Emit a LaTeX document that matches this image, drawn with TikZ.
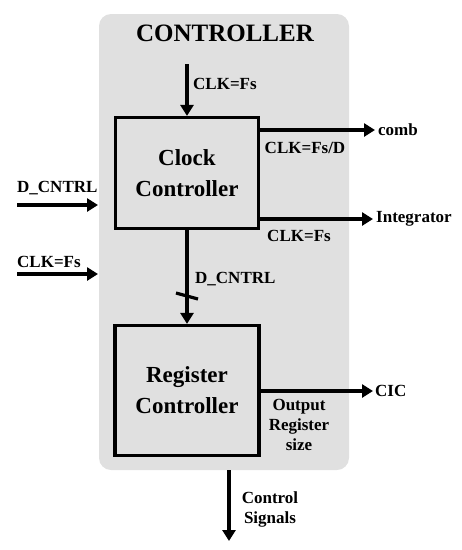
\documentclass[tikz,border=0pt]{standalone}
\usepackage{fontspec}
\setmainfont{Liberation Serif}
\usetikzlibrary{arrows.meta}
\definecolor{panelgray}{HTML}{E0E0E0}
\tikzset{
  block/.style={draw, line width=3.2pt, fill=panelgray, align=center,
    font=\fontsize{23}{31}\selectfont\bfseries},
  sig/.style={line width=3.2pt, -{Triangle[length=11pt,width=13pt]}},
  lbl/.style={font=\fontsize{17}{20}\selectfont\bfseries, inner sep=0pt, align=center}
}
\begin{document}
\begin{tikzpicture}[x=1pt,y=-1pt]
  \useasboundingbox (0,0) rectangle (462,550);
  % controller panel
  \fill[panelgray, rounded corners=12pt] (99,14) rectangle (349,470);
  \node[font=\fontsize{25}{30}\selectfont\bfseries] (title) at (225,33) {CONTROLLER};

  \node[block, minimum width=143pt, minimum height=111pt] (clk) at (187,173) {Clock\\Controller};
  \node[block, minimum width=144pt, minimum height=130pt] (reg) at (187,390.5) {Register\\Controller};

  \coordinate (ctop) at (187,64);
  \coordinate (comb) at (375,130);
  \coordinate (integ) at (373,219);
  \coordinate (din) at (17,205);
  \coordinate (dend) at (98,205);
  \coordinate (fsin) at (17,274);
  \coordinate (fsend) at (98,274);
  \coordinate (cic) at (373,391);
  \coordinate (ctlstart) at (229,470);
  \coordinate (ctlend) at (229,541);

  % signals
  \draw[sig] (ctop) -- (clk.north);
  \draw[sig] (clk.east |- comb) -- (comb);
  \draw[sig] (clk.east |- integ) -- (integ);
  \draw[sig] (din) -- (dend);
  \draw[sig] (fsin) -- (fsend);
  \draw[sig] (clk.south) -- (reg.north);
  \draw[line width=3.2pt] (176,293) -- (198,299);
  \draw[sig] (reg.east |- cic) -- (cic);
  \draw[sig] (ctlstart) -- (ctlend);

  % labels
  \node[lbl, anchor=west] (lclktop) at (193,84) {CLK=Fs};
  \node[lbl, anchor=west] (lcomb) at (378,130) {comb};
  \node[lbl] (lfsd) at (305,148) {CLK=Fs/D};
  \node[lbl, anchor=west] (linteg) at (376,219) {Integrator};
  \node[lbl] (lfs) at (299,236) {CLK=Fs};
  \node[lbl, anchor=west] (ldin) at (17,188) {D\_CNTRL};
  \node[lbl, anchor=west] (lfsin) at (17,262) {CLK=Fs};
  \node[lbl, anchor=west] (ldmid) at (195,279) {D\_CNTRL};
  \node[lbl, anchor=west] (lcic) at (375,391) {CIC};
  \node[lbl] (lsize) at (299,425) {Output\\Register\\size};
  \node[lbl] (lctl) at (270,509) {Control\\Signals};
\end{tikzpicture}
\end{document}
